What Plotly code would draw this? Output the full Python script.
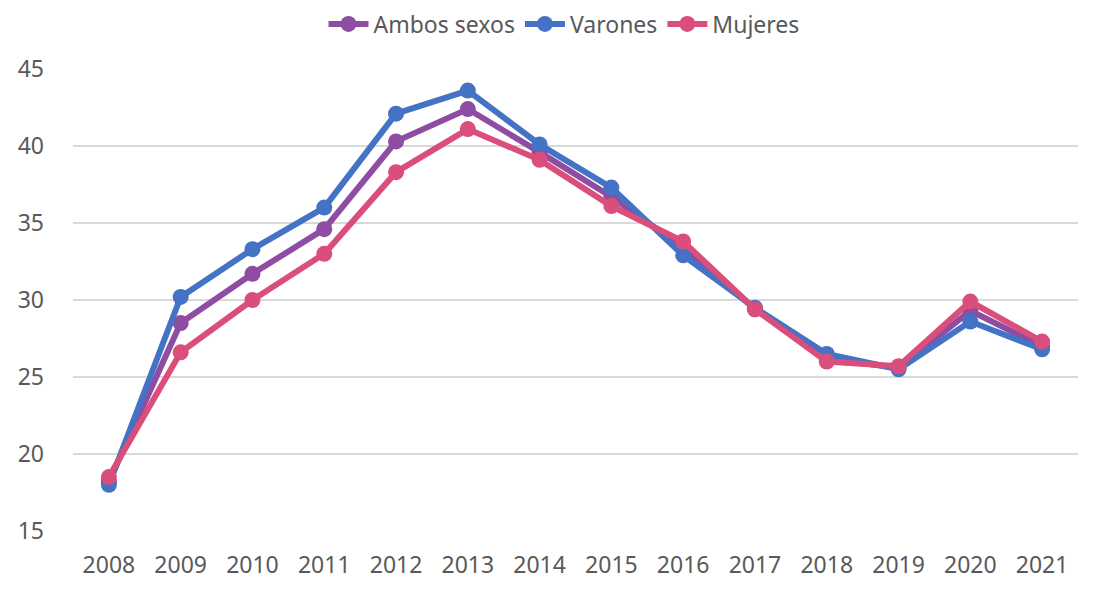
import plotly.graph_objects as go

years = ["2008", "2009", "2010", "2011", "2012", "2013", "2014",
         "2015", "2016", "2017", "2018", "2019", "2020", "2021"]
ambos = [18.2, 28.5, 31.7, 34.6, 40.3, 42.4, 39.6, 36.7, 33.4, 29.4, 26.2, 25.6, 29.3, 27.0]
varones = [18.0, 30.2, 33.3, 36.0, 42.1, 43.6, 40.1, 37.3, 32.9, 29.5, 26.5, 25.5, 28.6, 26.8]
mujeres = [18.5, 26.6, 30.0, 33.0, 38.3, 41.1, 39.1, 36.1, 33.8, 29.4, 26.0, 25.7, 29.9, 27.3]
y_ticks = [15, 20, 25, 30, 35, 40, 45]

series = [
    ("Ambos sexos", ambos, "#8E4CA3"),
    ("Varones", varones, "#4472C4"),
    ("Mujeres", mujeres, "#DA4E7C"),
]

fig = go.Figure()
for name, vals, col in series:
    fig.add_trace(go.Scatter(
        x=years, y=vals, name=name, mode="lines+markers",
        line=dict(color=col, width=6),
        marker=dict(color=col, size=16),
    ))

font = dict(family="Noto Sans, Open Sans, sans-serif", size=23, color="#595959")
fig.update_layout(
    width=1112, height=589,
    margin=dict(l=65, r=42, t=61, b=66, autoexpand=False),
    paper_bgcolor="white", plot_bgcolor="white",
    font=font,
    showlegend=True,
    legend=dict(orientation="h", x=0.5, xanchor="center", xref="container",
                y=1 - 16 / 589, yanchor="middle", yref="container",
                font=font, itemwidth=40, tracegroupgap=0, bgcolor="rgba(0,0,0,0)"),
)
fig.update_xaxes(type="category", range=[-0.5, len(years) - 0.5],
                 showgrid=False, showline=False, ticks="",
                 automargin=False, ticklabelstandoff=18, tickfont=font)
fig.update_yaxes(range=[15, 45], tickvals=y_ticks, showgrid=True, gridcolor="#D9D9D9",
                 gridwidth=1.5, zeroline=False, showline=False, ticks="",
                 automargin=False, ticklabelstandoff=28, tickfont=font)

fig.write_html("out.html")
